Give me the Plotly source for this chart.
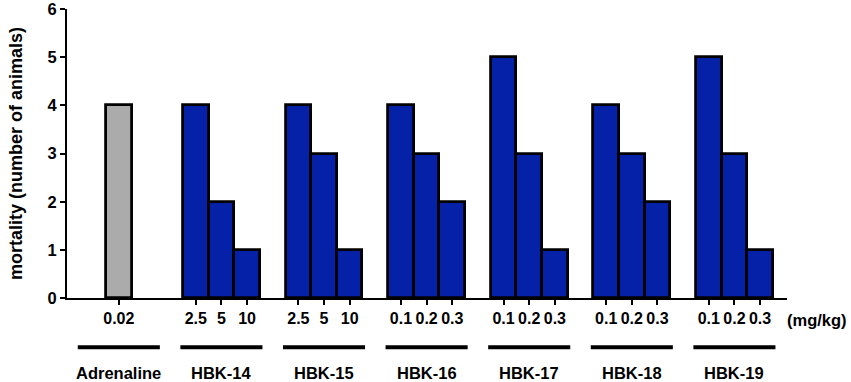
import plotly.graph_objects as go

groups = ["Adrenaline", "HBK-14", "HBK-15", "HBK-16", "HBK-17", "HBK-18", "HBK-19"]
doses = [["0.02"], ["2.5", "5", "10"], ["2.5", "5", "10"], ["0.1", "0.2", "0.3"],
         ["0.1", "0.2", "0.3"], ["0.1", "0.2", "0.3"], ["0.1", "0.2", "0.3"]]
mortality = [[4], [4, 2, 1], [4, 3, 1], [4, 3, 2], [5, 3, 1], [4, 3, 2], [5, 3, 1]]
colors = ["#ABABAB", "#0521A8", "#0521A8", "#0521A8", "#0521A8", "#0521A8", "#0521A8"]
y_ticks = [0, 1, 2, 3, 4, 5, 6]

FONT = "Liberation Sans, Arial, sans-serif"

# positions: adrenaline at 0, then groups of 3 spaced by 4 starting at 3
xs, ys, cols, tick_text = [], [], [], []
group_centers = []
for gi, (g, d, m) in enumerate(zip(groups, doses, mortality)):
    start = 0 if gi == 0 else 3 + (gi - 1) * 4
    pos = [start + k for k in range(len(d))]
    xs += pos
    ys += m
    cols += [colors[gi]] * len(d)
    tick_text += d
    group_centers.append(sum(pos) / len(pos))

fig = go.Figure()
fig.add_trace(go.Bar(
    x=xs, y=ys, width=1.0,
    marker=dict(color=cols, line=dict(color="black", width=2.8)),
    showlegend=False,
))

shapes = []
annotations = []
for gi, (g, c) in enumerate(zip(groups, group_centers)):
    half = 1.6
    shapes.append(dict(type="line", xref="x", yref="paper",
                       x0=c - half, x1=c + half, y0=-0.17, y1=-0.17,
                       line=dict(color="black", width=4)))
    annotations.append(dict(text="<b>%s</b>" % g, x=c, xref="x", y=-0.26, yref="paper",
                            showarrow=False, yanchor="middle", xanchor="center",
                            font=dict(family=FONT, size=16.5, color="black")))
annotations.append(dict(text="<b>(mg/kg)</b>", x=1.0, xref="paper", y=-0.075, yref="paper",
                        showarrow=False, xanchor="left", yanchor="middle", xshift=-2,
                        font=dict(family=FONT, size=16.5, color="black")))

fig.update_layout(
    width=851, height=382,
    margin=dict(l=67, r=64, t=9, b=84),
    plot_bgcolor="white", paper_bgcolor="white",
    shapes=shapes, annotations=annotations,
    bargap=0,
    xaxis=dict(range=[-2.02, 26.05], tickmode="array", tickvals=xs,
               ticktext=["<b>%s</b>" % t for t in tick_text],
               ticks="outside", ticklen=5, tickwidth=2, tickcolor="black",
               showline=True, linecolor="black", linewidth=2, showgrid=False,
               zeroline=False, automargin=False,
               tickfont=dict(family=FONT, size=16, color="black")),
    yaxis=dict(range=[0, 6.005], tickmode="array", tickvals=y_ticks,
               ticktext=["<b>%d</b>" % v for v in y_ticks],
               ticks="outside", ticklen=5, tickwidth=2,
               tickcolor="black", showline=True, linecolor="black", linewidth=2,
               showgrid=False, zeroline=False, automargin=False,
               tickfont=dict(family=FONT, size=16.5, color="black"),
               title=dict(text="<b>mortality (number of animals)</b>", standoff=20,
                          font=dict(family=FONT, size=18, color="black"))),
)

fig.write_html("out.html", config={"displayModeBar": False},
               post_script="document.body.style.margin='0';")
